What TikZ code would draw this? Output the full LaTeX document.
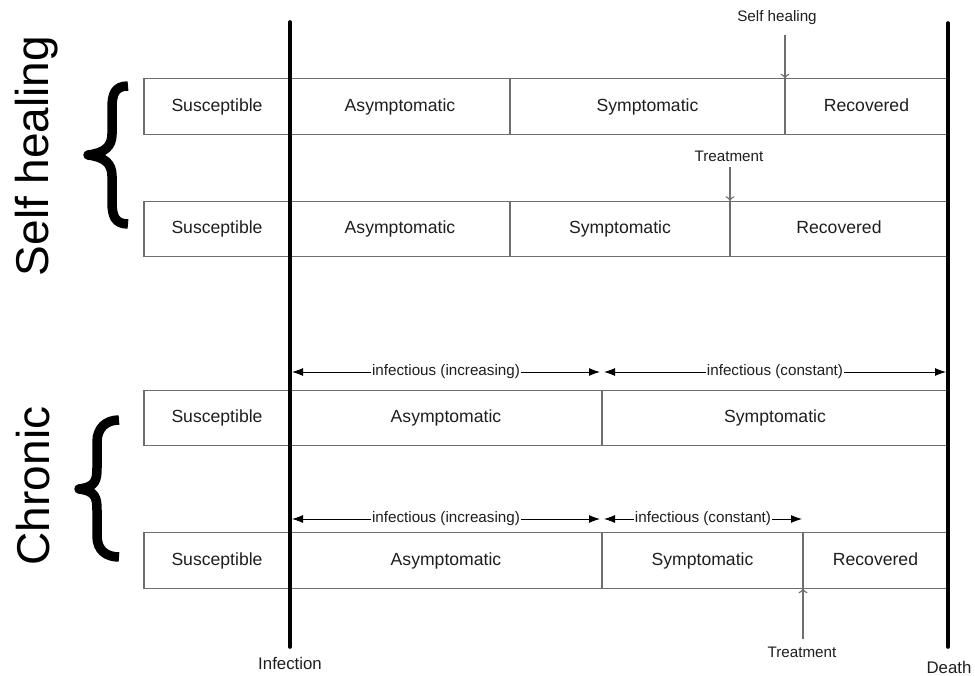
\documentclass[tikz,border=0pt]{standalone}
\usepackage{fontspec}
\setmainfont{Liberation Sans}
\usetikzlibrary{arrows.meta}
\definecolor{boxline}{HTML}{6E6E6E}
\definecolor{txt}{HTML}{1E1E1E}
\tikzset{
  cell/.style={draw=boxline, line width=1.3pt, inner sep=0pt, outer sep=0pt,
    minimum height=55.5pt, text height=12.8pt, text depth=3.4pt, text=txt, font=\fontsize{17.6}{20}\selectfont},
  bigline/.style={line width=3.6pt, black, line cap=round},
  span/.style={{Latex[length=11pt,width=8pt]}-{Latex[length=11pt,width=8pt]}, line width=0.9pt, black},
  spanlabel/.style={fill=white, inner sep=1pt, text=txt, font=\fontsize{15.2}{18}\selectfont},
  smalllabel/.style={text=txt, font=\fontsize{15.2}{18}\selectfont, inner sep=0pt},
  endlabel/.style={text=txt, font=\fontsize{16.8}{20}\selectfont, inner sep=0pt},
  event/.style={-{To[length=5pt,width=9pt]}, boxline, line width=1.1pt},
  biglabel/.style={rotate=90, anchor=base, text=black, font=\fontsize{46}{50}\selectfont, inner sep=0pt},
  bracepath/.style={line width=9.5pt, black, line cap=butt, line join=round}
}
\newcommand{\cellbox}[6]{%
  \node[cell, minimum width=#3pt-#2pt] (#1) at ({(#2+#3)/2},#4) {#6};}
\begin{document}
\begin{tikzpicture}[x=1pt,y=-1pt]
\useasboundingbox (0,0) rectangle (975,676);
% rows
\cellbox{aS}{144}{290}{106.5}{}{Susceptible}
\cellbox{aA}{290}{510}{106.5}{}{Asymptomatic}
\cellbox{aY}{510}{785}{106.5}{}{Symptomatic}
\cellbox{aR}{785}{948}{106.5}{}{Recovered}
\cellbox{bS}{144}{290}{229}{}{Susceptible}
\cellbox{bA}{290}{510}{229}{}{Asymptomatic}
\cellbox{bY}{510}{730}{229}{}{Symptomatic}
\cellbox{bR}{730}{948}{229}{}{Recovered}
\cellbox{cS}{144}{290}{418}{}{Susceptible}
\cellbox{cA}{290}{602}{418}{}{Asymptomatic}
\cellbox{cY}{602}{948}{418}{}{Symptomatic}
\cellbox{dS}{144}{290}{560.5}{}{Susceptible}
\cellbox{dA}{290}{602}{560.5}{}{Asymptomatic}
\cellbox{dY}{602}{803}{560.5}{}{Symptomatic}
\cellbox{dR}{803}{948}{560.5}{}{Recovered}
% infection and death lines
\coordinate (infTop) at (290,22);
\coordinate (infBot) at (290,647);
\coordinate (dthTop) at (948,23);
\coordinate (dthBot) at (948,647);
\draw[bigline] (infTop) -- (infBot);
\draw[bigline] (dthTop) -- (dthBot);
\node[endlabel, anchor=base] (infl) at (290,669) {Infection};
\node[endlabel, anchor=base] (dthl) at (949,673) {Death};
% event arrows
\node[smalllabel, anchor=base] (sh) at (777,22) {Self healing};
\coordinate (shs) at (785,35);
\draw[event] (shs) -- (aY.north east);
\node[smalllabel, anchor=base] (tr1) at (729,162) {Treatment};
\coordinate (tr1s) at (730,167);
\draw[event] (tr1s) -- (bY.north east);
\node[smalllabel, anchor=base] (tr2) at (802,657) {Treatment};
\coordinate (tr2s) at (803,639);
\draw[event] (tr2s) -- (dY.south east);
% infectious spans
\coordinate (c1a) at (292,372); \coordinate (c1b) at (600,372);
\coordinate (c2a) at (604,372); \coordinate (c2b) at (946,372);
\coordinate (d1a) at (292,519); \coordinate (d1b) at (600,519);
\coordinate (d2a) at (604,519); \coordinate (d2b) at (802,519);
\draw[span] (c1a) -- node[spanlabel] (c1l) {infectious (increasing)} (c1b);
\draw[span] (c2a) -- node[spanlabel] (c2l) {infectious (constant)} (c2b);
\draw[span] (d1a) -- node[spanlabel] (d1l) {infectious (increasing)} (d1b);
\draw[span] (d2a) -- node[spanlabel] (d2l) {infectious (constant)} (d2b);
% big labels
\node[biglabel] (selfh) at (48,156) {Self healing};
\node[biglabel] (chron) at (49,486) {Chronic};
% braces
\draw[bracepath] (128,86) .. controls (115,86) and (112,94) .. (112,108)
  -- (112,134) .. controls (112,147) and (104,153) .. (88,155)
  .. controls (104,157) and (112,163) .. (112,176)
  -- (112,202) .. controls (112,216) and (115,224) .. (128,224);
\draw[bracepath] (119,420) .. controls (106,420) and (97,428) .. (97,442)
  -- (97,468) .. controls (97,481) and (95,487) .. (79,489)
  .. controls (95,491) and (97,497) .. (97,510)
  -- (97,536) .. controls (97,550) and (106,557) .. (119,557);
\end{tikzpicture}
\end{document}
